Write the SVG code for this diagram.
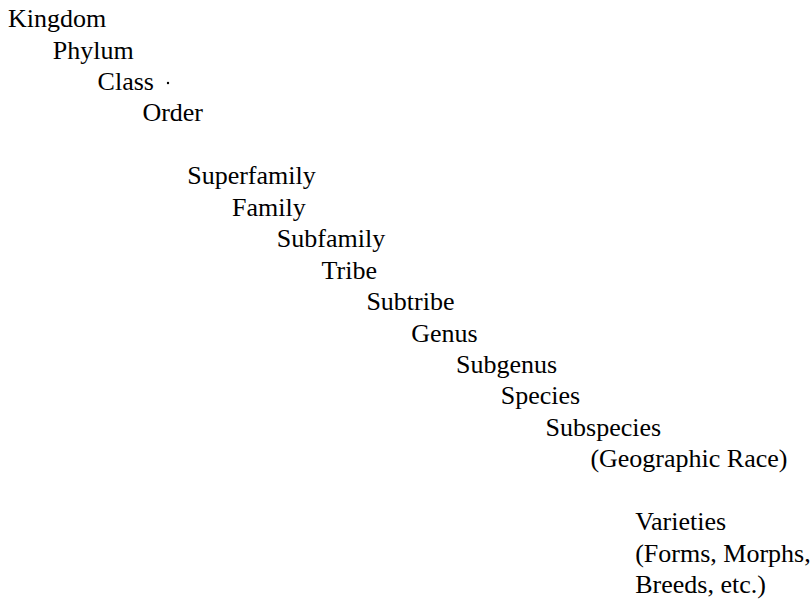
<svg xmlns="http://www.w3.org/2000/svg" width="810" height="599" viewBox="0 0 810 599">
<style>
  text { font-family: "Liberation Serif", "Times New Roman", serif; font-size: 26px; fill: #000; }
</style>
<rect width="810" height="599" fill="#fff"/>
<g id="kingdom"><text x="8" y="27">Kingdom</text></g>
<g id="phylum"><text x="52.8" y="58.5">Phylum</text></g>
<g id="class"><text x="97.6" y="89.9">Class</text><circle cx="168" cy="83" r="1.2" fill="#000"/></g>
<g id="order"><text x="142.4" y="121.4">Order</text></g>
<g id="superfamily"><text x="187.2" y="184.3">Superfamily</text></g>
<g id="family"><text x="232" y="215.7">Family</text></g>
<g id="subfamily"><text x="276.8" y="247.2">Subfamily</text></g>
<g id="tribe"><text x="321.6" y="278.6">Tribe</text></g>
<g id="subtribe"><text x="366.4" y="310.1">Subtribe</text></g>
<g id="genus"><text x="411.2" y="341.5">Genus</text></g>
<g id="subgenus"><text x="456" y="373">Subgenus</text></g>
<g id="species"><text x="500.8" y="404.4">Species</text></g>
<g id="subspecies"><text x="545.6" y="435.9">Subspecies</text></g>
<g id="geographic-race"><text x="590.4" y="467.3">(Geographic Race)</text></g>
<g id="varieties">
  <text x="635.2" y="530.2">Varieties</text>
  <text x="635.2" y="561.7">(Forms, Morphs,</text>
  <text x="635.2" y="593.1">Breeds, etc.)</text>
</g>
</svg>
